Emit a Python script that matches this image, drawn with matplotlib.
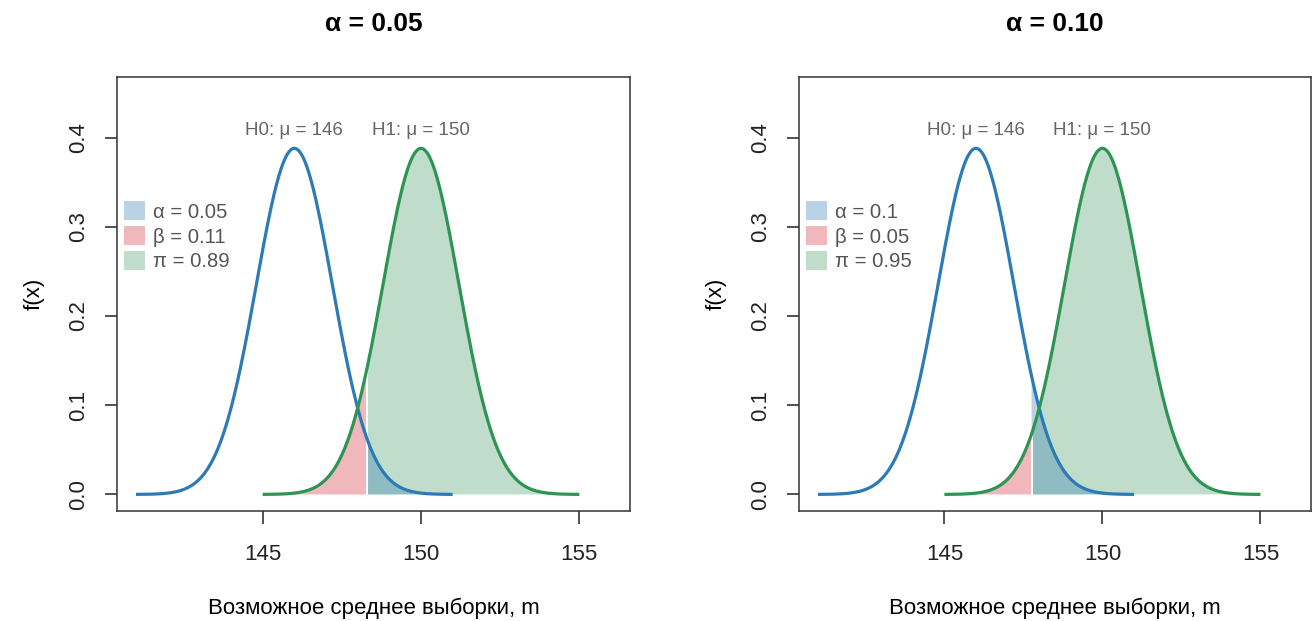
import numpy as np
import matplotlib
matplotlib.use("Agg")
import matplotlib.pyplot as plt
from matplotlib.patches import Patch

plt.rcParams['font.family'] = ['Liberation Sans', 'DejaVu Sans']

# ---- data ----
titles = ["α = 0.05", "α = 0.10"]
alpha_vals = [0.05, 0.1]
beta_vals = [0.11, 0.05]
power_vals = [0.89, 0.95]
crit_vals = [148.29, 147.76]
mu0 = 146
mu1 = 150
sd = 1.2            # spread of the plotted curves
peak = 0.388        # peak height of the plotted curves
h0_range = (141, 151)
h1_range = (145, 155)
x_ticks = [145, 150, 155]
y_ticks = [0.0, 0.1, 0.2, 0.3, 0.4]
x_label = "Возможное среднее выборки, m"
y_label = "f(x)"
h0_label = "H0: μ = 146"
h1_label = "H1: μ = 150"

# ---- styles ----
BLUE = '#2C7BB6'
GREEN = '#2E9452'
BLUE_FILL = '#2E78B4'
BLUE_ALPHA = 0.33
RED_FILL = '#F0B8BC'
GREEN_FILL = '#C0DCCB'
TXT_GRAY = '#555555'
ANN_GRAY = '#666666'

W, H = 1314, 621
fig = plt.figure(figsize=(W / 100, H / 100), dpi=100)

axes_px = [(117, 630), (799, 1311)]
top_px, bot_px = 77, 510.5


def curve(x, m):
    return peak * np.exp(-0.5 * ((x - m) / sd) ** 2)


for i, (x0, x1) in enumerate(axes_px):
    ax = fig.add_axes([x0 / W, (H - bot_px) / H, (x1 - x0) / W, (bot_px - top_px) / H])
    crit = crit_vals[i]

    xs0 = np.linspace(*h0_range, 400)
    xs1 = np.linspace(*h1_range, 400)

    # beta region (under H1, left of critical value)
    xb = np.linspace(h1_range[0], crit, 200)
    ax.fill(np.r_[crit, xb], np.r_[0, curve(xb, mu1)], color=RED_FILL, lw=0)
    # power region (under H1, right of critical value)
    xp = np.linspace(crit, h1_range[1], 300)
    ax.fill(np.r_[crit, xp], np.r_[0, curve(xp, mu1)], color=GREEN_FILL, lw=0)
    # alpha region (under H0, right of critical value)
    xa = np.linspace(crit, h0_range[1], 200)
    ax.fill(np.r_[crit, xa], np.r_[0, curve(xa, mu0)], color=BLUE_FILL,
            alpha=BLUE_ALPHA, lw=0)
    # white separator at critical value
    ax.plot([crit, crit], [0, curve(crit, mu1)], color='white', lw=1.5)

    ax.plot(xs0, curve(xs0, mu0), color=BLUE, lw=2.3, solid_capstyle='butt')
    ax.plot(xs1, curve(xs1, mu1), color=GREEN, lw=2.3, solid_capstyle='butt')

    ax.text(mu0, 0.408, h0_label, ha='center', va='center', fontsize=13.5, color=ANN_GRAY)
    ax.text(mu1, 0.408, h1_label, ha='center', va='center', fontsize=13.5, color=ANN_GRAY)

    handles = [Patch(facecolor=BLUE_FILL, alpha=BLUE_ALPHA, lw=0),
               Patch(facecolor=RED_FILL, lw=0),
               Patch(facecolor=GREEN_FILL, lw=0)]
    labels = [f"α = {alpha_vals[i]:g}", f"β = {beta_vals[i]:g}", f"π = {power_vals[i]:g}"]
    leg = ax.legend(handles, labels, loc='upper left', bbox_to_anchor=(0.0136, 0.713),
                    frameon=False, fontsize=14.6, handlelength=1.05, handleheight=1.05,
                    handletextpad=0.4, labelspacing=0.22, borderpad=0, borderaxespad=0)
    for t in leg.get_texts():
        t.set_color(TXT_GRAY)

    ax.set_xlim(140.4, 156.6)
    ax.set_ylim(-0.018, 0.468)
    ax.set_xticks(x_ticks)
    ax.set_yticks(y_ticks)
    ax.set_xticklabels([str(t) for t in x_ticks])
    ax.set_yticklabels([f"{t:.1f}" for t in y_ticks], rotation=90, va='center')
    ax.tick_params(axis='both', length=9, width=1.1, labelsize=16, colors='#222222')
    ax.tick_params(axis='x', pad=15)
    ax.tick_params(axis='y', pad=11)
    for s in ax.spines.values():
        s.set_linewidth(1.1)
        s.set_color('#333333')

    ax.set_title(titles[i], fontsize=19, fontweight='bold', pad=33)
    ax.set_xlabel(x_label, fontsize=16, labelpad=24)
    ax.set_ylabel(y_label, fontsize=16, labelpad=17)

fig.savefig("out.png", dpi=100)
